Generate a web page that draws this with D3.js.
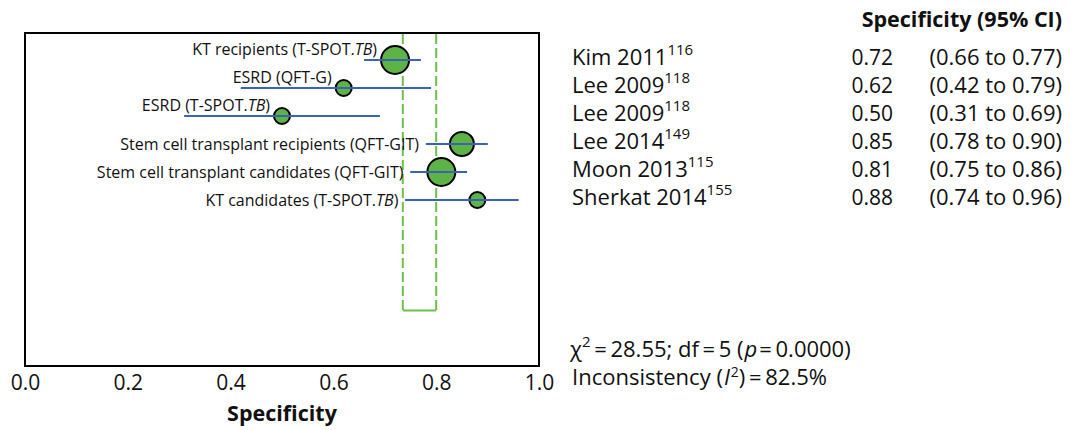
<!DOCTYPE html>
<html>
<head>
<meta charset="utf-8">
<script src="https://cdn.jsdelivr.net/npm/d3@7"></script>
<style>
  body { margin: 0; background: #fff; }
  text { font-family: "Open Sans", "Noto Sans", sans-serif; fill: #111; }
</style>
</head>
<body>
<svg id="chart" width="1073" height="430"></svg>
<script>
// study data
var studies = ["Kim 2011", "Lee 2009", "Lee 2009", "Lee 2014", "Moon 2013", "Sherkat 2014"];
var refs = ["116", "118", "118", "149", "115", "155"];
var groups = ["KT recipients (T-SPOT.TB)", "ESRD (QFT-G)", "ESRD (T-SPOT.TB)",
              "Stem cell transplant recipients (QFT-GIT)", "Stem cell transplant candidates (QFT-GIT)",
              "KT candidates (T-SPOT.TB)"];
var specificity = [0.72, 0.62, 0.50, 0.85, 0.81, 0.88];
var ciLow  = [0.66, 0.42, 0.31, 0.78, 0.75, 0.74];
var ciHigh = [0.77, 0.79, 0.69, 0.90, 0.86, 0.96];
var studyWeight = [196, 64, 64, 144, 196, 64];   // relative weight -> marker area
var pooledCI = [0.735, 0.80];
var xTicks = [0, 0.2, 0.4, 0.6, 0.8, 1.0];
var chi2 = "28.55", df = "5", pValue = "0.0000", inconsistency = "82.5%";

var svg = d3.select("#chart");

var plot = {left: 25, right: 539, top: 33, bottom: 366};
var xScale = d3.scaleLinear().domain([0, 1]).range([plot.left, plot.right]);
var yScale = d3.scaleLinear().domain([0, 1]).range([60, 88]);   // row index -> y
var rScale = d3.scaleSqrt().domain([0, 196]).range([0, 14]);

// labels in rows 0-2 sit above the CI line, others sit beside it
var labelAbove = [true, true, true, false, false, false];

// plot frame
svg.append("rect")
  .attr("x", plot.left).attr("y", plot.top)
  .attr("width", plot.right - plot.left).attr("height", plot.bottom - plot.top)
  .attr("fill", "none").attr("stroke", "#000").attr("stroke-width", 2);

// pooled estimate region
var dashBottom = yScale(8.95);
svg.selectAll(".pooled")
  .data(pooledCI)
  .enter().append("line")
    .attr("class", "pooled")
    .attr("x1", d => xScale(d)).attr("x2", d => xScale(d))
    .attr("y1", plot.top + 1).attr("y2", dashBottom)
    .attr("stroke", "#6cc04a").attr("stroke-width", 2)
    .attr("stroke-dasharray", "10,4");
svg.append("line")
  .attr("x1", xScale(pooledCI[0])).attr("x2", xScale(pooledCI[1]))
  .attr("y1", dashBottom).attr("y2", dashBottom)
  .attr("stroke", "#6cc04a").attr("stroke-width", 2);

var rows = studies.map((s, i) => ({i: i}));

function ciLines(cls) {
  svg.selectAll("." + cls)
    .data(rows)
    .enter().append("line")
      .attr("class", cls)
      .attr("x1", d => xScale(ciLow[d.i])).attr("x2", d => xScale(ciHigh[d.i]))
      .attr("y1", d => yScale(d.i)).attr("y2", d => yScale(d.i))
      .attr("stroke", "#3a63b5").attr("stroke-width", 2);
}

ciLines("ci");

// point estimates
svg.selectAll(".pt")
  .data(rows)
  .enter().append("circle")
    .attr("class", "pt")
    .attr("cx", d => xScale(specificity[d.i]))
    .attr("cy", d => yScale(d.i))
    .attr("r", d => rScale(studyWeight[d.i]))
    .attr("fill", "#5db345").attr("stroke", "#000").attr("stroke-width", 2);

// CI line also drawn over the circles
ciLines("ci2");

// subgroup labels, with italic "TB"
svg.selectAll(".grp")
  .data(rows)
  .enter().append("text")
    .attr("class", "grp")
    .attr("text-anchor", "end")
    .style("font-size", "16px")
    .attr("x", d => labelAbove[d.i]
        ? xScale(specificity[d.i]) - rScale(studyWeight[d.i]) - 4
        : xScale(ciLow[d.i]) - 7)
    .attr("y", d => labelAbove[d.i] ? yScale(d.i) - 5 : yScale(d.i) + 6)
    .each(function(d) {
      var t = d3.select(this);
      var parts = groups[d.i].split("T-SPOT.TB");
      if (parts.length > 1) {
        t.append("tspan").text(parts[0] + "T-SPOT.");
        t.append("tspan").style("font-style", "italic").text("TB");
        t.append("tspan").text(parts[1]);
      } else {
        t.text(groups[d.i]);
      }
    });

// x axis
var xAxis = d3.axisBottom(xScale)
  .tickValues(xTicks)
  .tickFormat(d3.format(".1f"))
  .tickSize(0)
  .tickPadding(9);
var axisG = svg.append("g")
  .attr("transform", "translate(0," + plot.bottom + ")")
  .call(xAxis);
axisG.select(".domain").remove();
axisG.selectAll("text")
  .style("font-family", '"Open Sans", sans-serif')
  .style("font-size", "21px")
  .attr("fill", "#111");

svg.append("text")
  .attr("x", 282).attr("y", 421)
  .attr("text-anchor", "middle")
  .style("font-size", "21.5px").style("font-weight", "bold")
  .text("Specificity");

// right hand table
var colName = 572, colVal = 893, colCI = 1062;
svg.append("text")
  .attr("x", colCI).attr("y", 27)
  .attr("text-anchor", "end")
  .style("font-size", "21.5px").style("font-weight", "bold")
  .text("Specificity (95% CI)");

var fmt = d3.format(".2f");
var tbl = svg.selectAll(".row")
  .data(rows)
  .enter().append("g")
    .attr("class", "row")
    .attr("transform", d => "translate(0," + (yScale(d.i) + 5) + ")");

tbl.append("text")
  .attr("x", colName)
  .style("font-size", "22px")
  .each(function(d) {
    var t = d3.select(this);
    t.append("tspan").text(studies[d.i]);
    t.append("tspan").attr("dy", -10).style("font-size", "15px").text(refs[d.i]);
  });
tbl.append("text")
  .attr("x", colVal).attr("text-anchor", "end")
  .style("font-size", "21px")
  .text(d => fmt(specificity[d.i]));
tbl.append("text")
  .attr("x", colCI).attr("text-anchor", "end")
  .style("font-size", "22px")
  .text(d => "(" + fmt(ciLow[d.i]) + " to " + fmt(ciHigh[d.i]) + ")");

// heterogeneity statistics
var s1 = svg.append("text").attr("x", colName - 2).attr("y", 357).style("font-size", "22px");
s1.append("tspan").text("\u03C7");
s1.append("tspan").attr("dy", -10).style("font-size", "15px").text("2");
s1.append("tspan").attr("dy", 10).text("\u2009=\u2009" + chi2 + "; df\u2009=\u2009" + df + " (");
s1.append("tspan").attr("dx", 1).style("font-style", "italic").text("p");
s1.append("tspan").attr("dx", 2).text("=\u2009" + pValue + ")");

var s2 = svg.append("text").attr("x", colName).attr("y", 385).style("font-size", "22px");
s2.append("tspan").text("Inconsistency (");
s2.append("tspan").attr("dx", 1).style("font-style", "italic").text("I");
s2.append("tspan").attr("dy", -8).attr("dx", 1).style("font-size", "14px").text("2");
s2.append("tspan").attr("dy", 8).text(")\u2009=\u2009" + inconsistency);
</script>
</body>
</html>
